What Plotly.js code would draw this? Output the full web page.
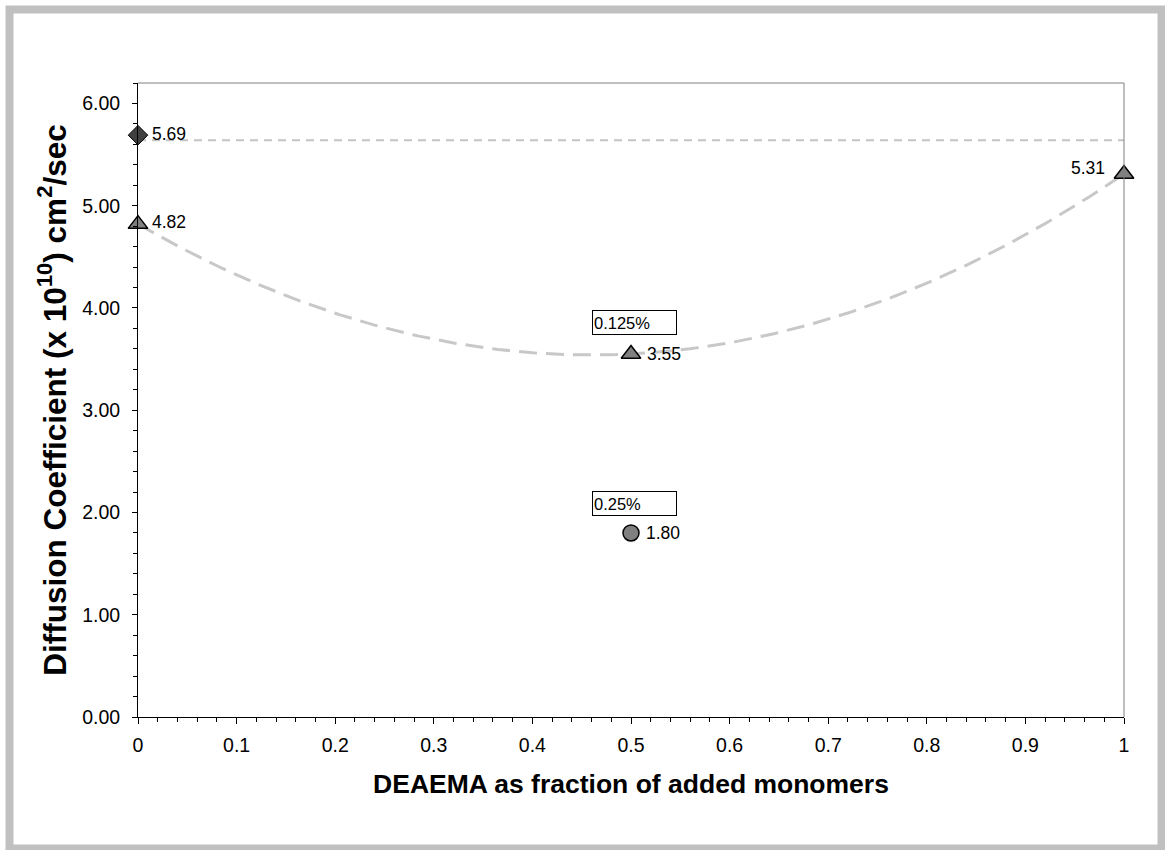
<!DOCTYPE html>
<html>
<head>
<meta charset="utf-8">
<script src="https://cdn.plot.ly/plotly-3.0.1.min.js"></script>
<style>
  html, body { margin: 0; padding: 0; background: #ffffff; }
  #chart { width: 1165px; height: 850px; }
</style>
</head>
<body>
<div id="chart"></div>
<script>
// DEAEMA fraction of added monomers
const fractions = [0, 0.5, 1];
// Diffusion coefficients (x 10^10 cm^2/sec), 0.125% series
const coef0125 = [4.82, 3.55, 5.31];
// Single reference measurement at fraction 0
const refX = [0];
const refY = [5.69];
// 0.25% series
const coef025X = [0.5];
const coef025Y = [1.80];
// Level of the horizontal reference line
const refLevel = 5.64;
// Series tags shown in boxes
const boxLabels = ['0.125%', '0.25%'];
const boxY = [3.86, 2.085];

const FONT = 'Liberation Sans, Arial, Helvetica, sans-serif';

// Second-order polynomial trendline through the 0.125% points
function quadFit(xs, ys) {
  // Lagrange form equals the least-squares quadratic for three points
  return function (x) {
    let s = 0;
    for (let i = 0; i < xs.length; i++) {
      let t = ys[i];
      for (let j = 0; j < xs.length; j++) {
        if (j !== i) t *= (x - xs[j]) / (xs[i] - xs[j]);
      }
      s += t;
    }
    return s;
  };
}
const fit = quadFit(fractions, coef0125);
const trendX = [];
const trendY = [];
for (let i = 0; i <= 200; i++) {
  const x = i / 200;
  trendX.push(x);
  trendY.push(fit(x));
}

const traces = [
  {
    x: [0, 1], y: [refLevel, refLevel],
    mode: 'lines', hoverinfo: 'skip',
    line: { color: '#c4c4c4', width: 2, dash: '8px,6px' }
  },
  {
    x: trendX, y: trendY,
    mode: 'lines', hoverinfo: 'skip',
    line: { color: '#c8c8c8', width: 3, dash: '18px,9px' }
  },
  {
    x: refX, y: refY, mode: 'markers',
    marker: { symbol: 'diamond', size: 15, color: '#404040', line: { color: '#000000', width: 1 } }
  },
  {
    x: fractions, y: coef0125, mode: 'markers',
    marker: { symbol: 'triangle-up', size: 17, color: '#808080', line: { color: '#000000', width: 1.5 } }
  },
  {
    x: coef025X, y: coef025Y, mode: 'markers',
    marker: { symbol: 'circle', size: 16, color: '#808080', line: { color: '#000000', width: 1.5 } }
  }
];
traces.forEach(t => { t.cliponaxis = false; t.showlegend = false; });

// Value labels next to each point
const annotations = [];
function valueLabel(x, y, anchor, xs, ys) {
  annotations.push({
    x: x, y: y, xref: 'x', yref: 'y', text: y.toFixed(2), showarrow: false,
    xanchor: anchor, yanchor: 'middle', xshift: xs, yshift: ys,
    font: { family: FONT, size: 17.5, color: '#000000' }
  });
}
valueLabel(refX[0], refY[0], 'left', 12, 1);
valueLabel(fractions[0], coef0125[0], 'left', 12, 2);
valueLabel(fractions[1], coef0125[1], 'left', 14, 0);
valueLabel(fractions[2], coef0125[2], 'right', -17, 6);
valueLabel(coef025X[0], coef025Y[0], 'left', 13, 0);

boxLabels.forEach((label, i) => {
  annotations.push({
    x: 0.46, y: boxY[i], xref: 'x', yref: 'y', text: label, showarrow: false,
    xanchor: 'left', yanchor: 'middle', align: 'left',
    width: 81, height: 21, borderpad: 1,
    bordercolor: '#000000', borderwidth: 1, bgcolor: '#ffffff',
    font: { family: FONT, size: 16.5, color: '#000000' }
  });
});

const layout = {
  width: 1165, height: 850,
  margin: { l: 138, r: 41, t: 83, b: 133 },
  paper_bgcolor: '#ffffff', plot_bgcolor: '#ffffff',
  font: { family: FONT, color: '#000000' },
  showlegend: false,
  xaxis: {
    range: [0, 1], dtick: 0.1, tick0: 0,
    showgrid: false, zeroline: false,
    showline: true, linecolor: '#000000', linewidth: 1,
    ticks: 'outside', ticklen: 6, tickcolor: '#000000', tickwidth: 1,
    minor: { dtick: 0.02, ticks: 'outside', ticklen: 4, tickcolor: '#000000', tickwidth: 1 },
    tickfont: { family: FONT, size: 19.5, color: '#000000' },
    ticklabelstandoff: 5,
    title: { text: 'DEAEMA as fraction of added monomers', standoff: 19,
             font: { family: FONT, size: 26.5, color: '#000000', weight: 'bold' } }
  },
  yaxis: {
    range: [0, 6.2], dtick: 1, tick0: 0, tickformat: '.2f',
    showgrid: false, zeroline: false,
    showline: true, linecolor: '#000000', linewidth: 1,
    ticks: 'outside', ticklen: 5, tickcolor: '#000000', tickwidth: 1,
    minor: { dtick: 0.2, ticks: 'outside', ticklen: 4, tickcolor: '#000000', tickwidth: 1 },
    tickfont: { family: FONT, size: 19.5, color: '#000000' },
    ticklabelstandoff: 8,
    title: { text: 'Diffusion Coefficient (x 10<sup>10</sup>) cm<sup>2</sup>/sec', standoff: 6,
             font: { family: FONT, size: 31.5, color: '#000000', weight: 'bold' } }
  },
  shapes: [
    // plot area frame (top and right)
    { type: 'line', xref: 'paper', yref: 'paper', x0: 0, x1: 1, y0: 1, y1: 1,
      line: { color: '#808080', width: 1 } },
    { type: 'line', xref: 'paper', yref: 'paper', x0: 1, x1: 1, y0: 0, y1: 1,
      line: { color: '#808080', width: 1 } },
    // chart border
    { type: 'rect', xref: 'paper', yref: 'paper',
      x0: (9.5 - 138) / 986, x1: (1161.5 - 138) / 986,
      y0: (717 - 848.5) / 634, y1: (717 - 9.5) / 634,
      line: { color: '#c0c0c0', width: 8 } }
  ],
  annotations: annotations
};

Plotly.newPlot('chart', traces, layout, { staticPlot: true, displayModeBar: false });
</script>
</body>
</html>
